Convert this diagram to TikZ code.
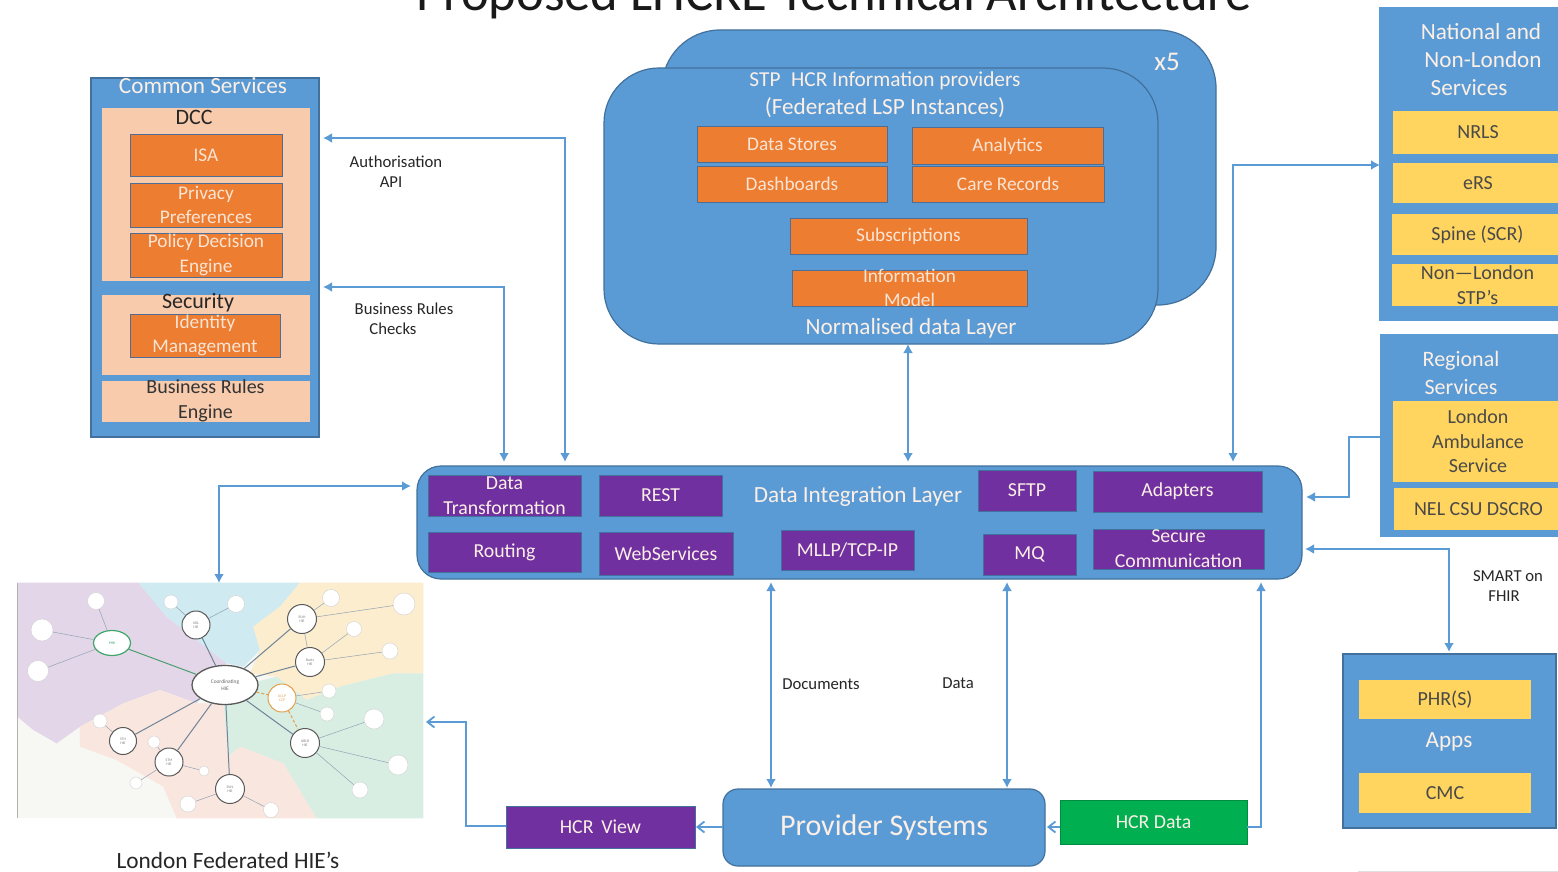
\documentclass[tikz,border=0pt]{standalone}
\usepackage{fontspec}
\setmainfont{Carlito}
\usetikzlibrary{arrows.meta,shapes.geometric}
\definecolor{bl}{HTML}{5B9BD5}
\definecolor{bld}{HTML}{41719C}
\definecolor{orr}{HTML}{ED7D31}
\definecolor{ord}{HTML}{4F6E96}
\definecolor{pch}{HTML}{F8CBAD}
\definecolor{pur}{HTML}{7030A0}
\definecolor{yel}{HTML}{FFD45F}
\definecolor{grn}{HTML}{00B050}
\definecolor{wtx}{HTML}{FBEFE6}
\definecolor{dtx}{HTML}{4A4A48}
\definecolor{mapln}{HTML}{6F8499}
\definecolor{mbase}{HTML}{F7F7F3}
\definecolor{mpur}{HTML}{E3D6E9}
\definecolor{mblu}{HTML}{CFEAF1}
\definecolor{myel}{HTML}{FBEDCE}
\definecolor{mgrn}{HTML}{D8EEE3}
\definecolor{mpnk}{HTML}{F9E6DE}
\definecolor{mhgrn}{HTML}{3FA66B}
\definecolor{mhor}{HTML}{E2A04F}
\newcommand{\fs}[2]{\fontsize{#1}{#2}\selectfont}
\newcommand{\bx}[7]{%
  \pgfmathsetmacro\bxw{#5-#3}\pgfmathsetmacro\bxh{#6-#4}%
  \pgfmathsetmacro\bxx{(#5+#3)/2}\pgfmathsetmacro\bxy{(#6+#4)/2}%
  \node[#2,minimum width=\bxw pt,minimum height=\bxh pt] (#1) at (\bxx,\bxy) {#7};}
% leaf of the map: name, x, y, diameter, hub it hangs from
\newcommand{\lf}[5]{%
  \node[leaf,minimum size=#4pt] (#1) at (#2,#3) {};
  \draw[thinedge] (#5) -- (#1);}
\tikzset{
  base box/.style={rectangle,inner xsep=0pt,inner ysep=-40pt,outer sep=0pt,align=center},
  cont/.style={base box,fill=bl,draw=bld,line width=1.2pt},
  rcont/.style={cont,rounded corners=#1},
  peach/.style={base box,fill=pch,draw=bl,line width=.8pt,text=black!80,font=\fs{20}{25}},
  orbox/.style={base box,fill=orr,draw=ord,line width=1pt,text=wtx!90!orr,font=\fs{19.3}{24.5}},
  purbox/.style={base box,fill=pur,draw=bld,line width=.8pt,text=wtx,font=\fs{19.8}{25}},
  yelbox/.style={base box,fill=yel,text=dtx,font=\fs{20}{24.5}},
  wlabel/.style={text=wtx,inner sep=0pt,align=center,font=\fs{23.2}{28}},
  blabel/.style={text=black!85,inner sep=0pt,align=center,font=\fs{16.7}{20}},
  conn/.style={draw=bl,line width=1.8pt,line join=miter},
  thick conn/.style={line width=2.8pt},
  both/.style={conn,{Latex[length=9pt,width=10pt]}-{Latex[length=9pt,width=10pt]}},
  tip/.style={conn,-{Latex[length=9pt,width=10pt]}},
  barb/.style={conn,-{Straight Barb[length=7pt,width=11pt]}},
  hub/.style={circle,draw=#1,line width=1pt,fill=white,inner sep=0pt,text=gray,align=center,font=\fs{3.8}{4.4}},
  leaf/.style={circle,draw=gray!35,line width=.4pt,fill=white,inner sep=0pt},
  mapedge/.style={draw=mapln,line width=1pt},
  thinedge/.style={draw=mapln!75,line width=.5pt}
}
\begin{document}
\begin{tikzpicture}[x=1pt,y=-1pt]
\useasboundingbox (0,0) rectangle (1558,872);
\clip (0,0) rectangle (1558,872);
\fill[white] (0,0) rectangle (1558,872);

\node[anchor=base,inner sep=0pt,text=black!90,font=\fs{52.6}{55}] (title) at (834,11) {Proposed LHCRE Technical Architecture};

% Common services
\bx{cs}{cont}{91}{78}{319}{437}{}
\node[wlabel] (cst) at (203,86) {Common Services};
\bx{dcc}{peach}{101}{107}{310}{281}{}
\node[blabel,font=\fs{22}{25}] (dcct) at (194,117) {DCC};
\bx{isa}{orbox}{130}{135}{282}{176}{ISA}
\bx{priv}{orbox}{130}{183}{282}{227}{Privacy\\Preferences}
\bx{pde}{orbox}{130}{233}{282}{277}{Policy Decision\\Engine}
\bx{sec}{peach}{101}{294}{310}{375}{}
\node[blabel,font=\fs{22}{25}] (sect) at (198,303) {Security};
\bx{idm}{orbox}{130}{314}{280}{357}{Identity\\Management}
\bx{bre}{peach}{101}{380}{310}{422}{Business Rules\\Engine}

% STP
\bx{stpb}{rcont=58pt}{662}{30}{1216}{305}{}
\node[wlabel,font=\fs{27}{28}] (xfive) at (1167,62) {x5};
\bx{stp}{rcont=55pt}{604}{68}{1158}{344}{}
\node[wlabel] (stpt) at (885,95) {{\fs{21.3}{28}STP\hspace{.5em}HCR Information providers}\\(Federated LSP Instances)};
\bx{ds}{orbox}{697}{127}{887}{162}{Data Stores}
\bx{an}{orbox}{912}{128}{1103}{164}{Analytics}
\bx{dash}{orbox}{697}{166}{887}{202}{Dashboards}
\bx{care}{orbox}{912}{166}{1104}{202}{Care Records}
\bx{sub}{orbox}{790}{218}{1027}{254}{Subscriptions}
\bx{info}{orbox}{792}{270}{1027}{306}{Information\\Model}
\node[wlabel] (norm) at (911,328) {Normalised data Layer};

% Data integration layer
\bx{dil}{rcont=24pt}{417}{466}{1302}{579}{}
\node[wlabel] (dilt) at (858,496) {Data Integration Layer};
\bx{dt}{purbox}{428}{475}{581}{516}{Data\\Transformation}
\bx{rest}{purbox}{599}{475}{722}{516}{REST}
\bx{sftp}{purbox}{978}{470}{1076}{511}{SFTP}
\bx{adp}{purbox}{1093}{471}{1262}{512}{Adapters}
\bx{rout}{purbox}{428}{532}{581}{572}{Routing}
\bx{ws}{purbox}{599}{532}{733}{575}{WebServices}
\bx{mllp}{purbox}{781}{530}{914}{570}{MLLP/TCP-IP}
\bx{mq}{purbox}{983}{534}{1076}{575}{MQ}
\bx{sc}{purbox}{1093}{529}{1264}{569}{Secure\\Communication}

% National
\bx{nat}{cont,draw=bl}{1380}{8}{1570}{320}{}
\node[wlabel] (natt) at (1483,60) {\mbox{National and\hspace{4pt}}\\\mbox{Non-London}\\\mbox{Services\hspace{28pt}}};
\bx{nrls}{yelbox}{1393}{111}{1563}{154}{NRLS}
\bx{ers}{yelbox}{1393}{163}{1563}{203}{eRS}
\bx{spine}{yelbox}{1392}{214}{1563}{255}{Spine (SCR)}
\bx{nonl}{yelbox}{1392}{264}{1563}{306}{Non—London\\STP’s}

% Regional
\bx{reg}{cont,draw=bl}{1381}{335}{1570}{536}{}
\node[wlabel,font=\fs{22}{28}] (regt) at (1461,373) {Regional\\Services};
\bx{las}{yelbox}{1393}{401}{1563}{482}{London\\Ambulance\\Service}
\bx{nel}{yelbox}{1394}{488}{1563}{530}{NEL CSU DSCRO}

% Apps
\bx{apps}{cont}{1343}{654}{1556}{828}{}
\bx{phr}{yelbox}{1359}{680}{1531}{719}{PHR(S)}
\bx{cmc}{yelbox}{1359}{773}{1531}{813}{CMC}
\node[wlabel] (appt) at (1449,742) {Apps};

% Bottom
\bx{prov}{rcont=15pt,font=\fs{30}{30},text=wtx}{723}{789}{1045}{866}{Provider Systems}
\bx{view}{purbox}{506}{806}{695}{848}{HCR\hspace{.4em}View}
\bx{data}{purbox,fill=grn,draw=grn!80!black}{1060}{800}{1247}{844}{HCR Data}

% Map regions
\begin{scope}[shift={(0,570)},x=.33333pt,y=-.33333pt]
\fill[mbase] (52,38) rectangle (1270,745);
\fill[mpur] (52,38) -- (415,38) -- (500,140) -- (680,280) -- (590,400) -- (480,360) -- (370,400) -- (240,470) -- (170,520) -- (100,480) -- (52,440) -- cycle;
\fill[mblu] (415,38) -- (900,38) -- (840,110) -- (760,170) -- (780,240) -- (730,290) -- (680,280) -- (500,140) -- cycle;
\fill[myel] (900,38) -- (1270,38) -- (1270,310) -- (1180,310) -- (1020,350) -- (920,390) -- (830,320) -- (750,310) -- (780,240) -- (760,170) -- (840,110) -- cycle;
\fill[mgrn] (1270,310) -- (1270,745) -- (950,745) -- (850,580) -- (720,530) -- (685,560) -- (670,400) -- (750,340) -- (830,320) -- (920,390) -- (1020,350) -- (1180,310) -- cycle;
\fill[mpnk] (590,400) -- (670,400) -- (685,560) -- (720,530) -- (850,580) -- (950,745) -- (530,745) -- (490,650) -- (350,570) -- (240,530) -- (240,470) -- (370,400) -- (480,360) -- cycle;
\draw[gray!60,line width=.5pt] (52,38) -- (52,745);
\end{scope}
\bx{map}{rectangle,inner sep=0pt,outer sep=0pt}{17}{583}{424}{820}{}

% Map network
\node[ellipse,draw=gray!70!black,line width=1.3pt,fill=white,inner sep=0pt,minimum width=66pt,minimum height=39pt,text=gray!80!black,align=center,font=\fs{5.4}{7}] (coord) at (225,685) {Coordinating\\HIE};
\node[ellipse,draw=mhgrn,line width=1.2pt,fill=white,inner sep=0pt,minimum width=37pt,minimum height=25pt,text=mhgrn,font=\fs{3.8}{4.4}] (hgreen) at (112,643) {PHR};
\node[hub=gray!70!black,minimum size=28pt] (h1) at (196,625) {NEL\\HIE};
\node[hub=gray!70!black,minimum size=29pt] (h2) at (302,619) {RUH\\HIE};
\node[hub=gray!70!black,minimum size=29pt] (h3) at (310,662) {Barts\\HIE};
\node[hub=mhor,minimum size=28pt,text=mhor] (h4) at (282,698) {UCLP\\CCP};
\node[hub=gray!70!black,minimum size=29pt] (h5) at (305,743) {UBLB\\HIE};
\node[hub=gray!70!black,minimum size=29pt] (h6) at (230,789) {SWL\\HIE};
\node[hub=gray!70!black,minimum size=28pt] (h7) at (169,762) {STM\\HIE};
\node[hub=gray!70!black,minimum size=27pt] (h8) at (123,741) {STH\\HIE};
\draw[mapedge,draw=mhgrn!80!gray] (coord) -- (hgreen);
\foreach \hh in {h1,h2,h3,h5,h6,h7,h8} {\draw[mapedge] (coord) -- (\hh);}
\draw[mapedge,draw=mhor,densely dashed] (coord) -- (h4);
\draw[mapedge,draw=mhor,densely dashed] (h4) -- (h5);
\draw[thinedge] (h2) -- (h3);
\lf{l1}{96}{601}{17}{hgreen}
\lf{l2}{42}{630}{22}{hgreen}
\lf{l3}{38}{671}{21}{hgreen}
\lf{l4}{171}{602}{14}{h1}
\lf{l5}{236}{604}{17}{h1}
\lf{l6}{331}{598}{17}{h2}
\lf{l7}{404}{604}{22}{h2}
\lf{l8}{354}{629}{15}{h3}
\lf{l9}{390}{651}{16}{h3}
\lf{l10}{329}{691}{14}{h4}
\lf{l11}{327}{714}{14}{h4}
\lf{l12}{374}{719}{20}{h5}
\lf{l13}{398}{765}{20}{h5}
\lf{l14}{360}{790}{16}{h5}
\lf{l15}{188}{804}{16}{h6}
\lf{l16}{271}{810}{15}{h6}
\lf{l17}{136}{783}{12}{h7}
\lf{l18}{204}{771}{10}{h7}
\lf{l19}{154}{742}{12}{h7}
\lf{l20}{100}{721}{14}{h8}

% Text labels
\node[blabel] (lauth) at (396,172) {Authorisation\\\hspace{-10pt}API};
\node[blabel] (lbus) at (404,319) {Business Rules\\\hspace{-22pt}Checks};
\node[blabel] (ldoc) at (821,684) {Documents};
\node[blabel] (ldata) at (958,683) {Data};
\node[blabel] (lsmart) at (1508,586) {SMART on\\\hspace{-8pt}FHIR};
\node[blabel,font=\fs{23.3}{25}] (lhie) at (228,860) {London Federated HIE’s};

% Connector bends
\coordinate (a1) at (565,138);
\coordinate (a2) at (504,287);
\coordinate (a3) at (908,400);
\coordinate (a4) at (1233,165);
\coordinate (a5) at (1349,437);
\coordinate (a5b) at (1349,497);
\coordinate (a6) at (1449,549);
\coordinate (a7) at (219,486);
\coordinate (a8) at (771,680);
\coordinate (a9) at (1007,680);
\coordinate (a10) at (1261,827);
\coordinate (a11) at (466,722);
\coordinate (a12) at (466,826);
\coordinate (a13) at (700,827);

% Connectors
\draw[both] ([xshift=4pt]cs.east |- a1) -- (a1) -- ([yshift=4pt]dil.north -| a1);
\draw[both] ([xshift=4pt]cs.east |- a2) -- (a2) -- ([yshift=4pt]dil.north -| a2);
\draw[both,thick conn] (stp.south -| a3) -- ([yshift=4pt]dil.north -| a3);
\draw[both] ([yshift=4pt]dil.north -| a4) -- (a4) -- (nat.west |- a4);
\draw[tip] (reg.west |- a5) -- (a5) -- (a5b) -- ([xshift=4pt]dil.east |- a5b);
\draw[both] ([xshift=3pt]dil.east |- a6) -- (a6) -- ([yshift=2pt]apps.north -| a6);
\draw[both] ([xshift=-6pt]dil.west |- a7) -- (a7) -- (map.north -| a7);
\draw[both,thick conn] ([yshift=-3pt]dil.south -| a8) -- ([yshift=1pt]prov.north -| a8);
\draw[both,thick conn] ([yshift=-3pt]dil.south -| a9) -- ([yshift=1pt]prov.north -| a9);
\draw[tip,thick conn] (data.east |- a10) -- (a10) -- ([yshift=-3pt]dil.south -| a10);
\draw[barb] (prov.west |- a13) -- ([xshift=1pt]view.east |- a13);
\draw[barb] (data.west |- a10) -- ([xshift=2pt]prov.east |- a10);
\draw[barb] (view.west |- a12) -- (a12) -- (a11) -- ([xshift=2pt]map.east |- a11);

% Bottom-edge rule
\draw[gray!25,line width=.8pt] (1358,871) -- (1558,871);
\end{tikzpicture}
\end{document}
